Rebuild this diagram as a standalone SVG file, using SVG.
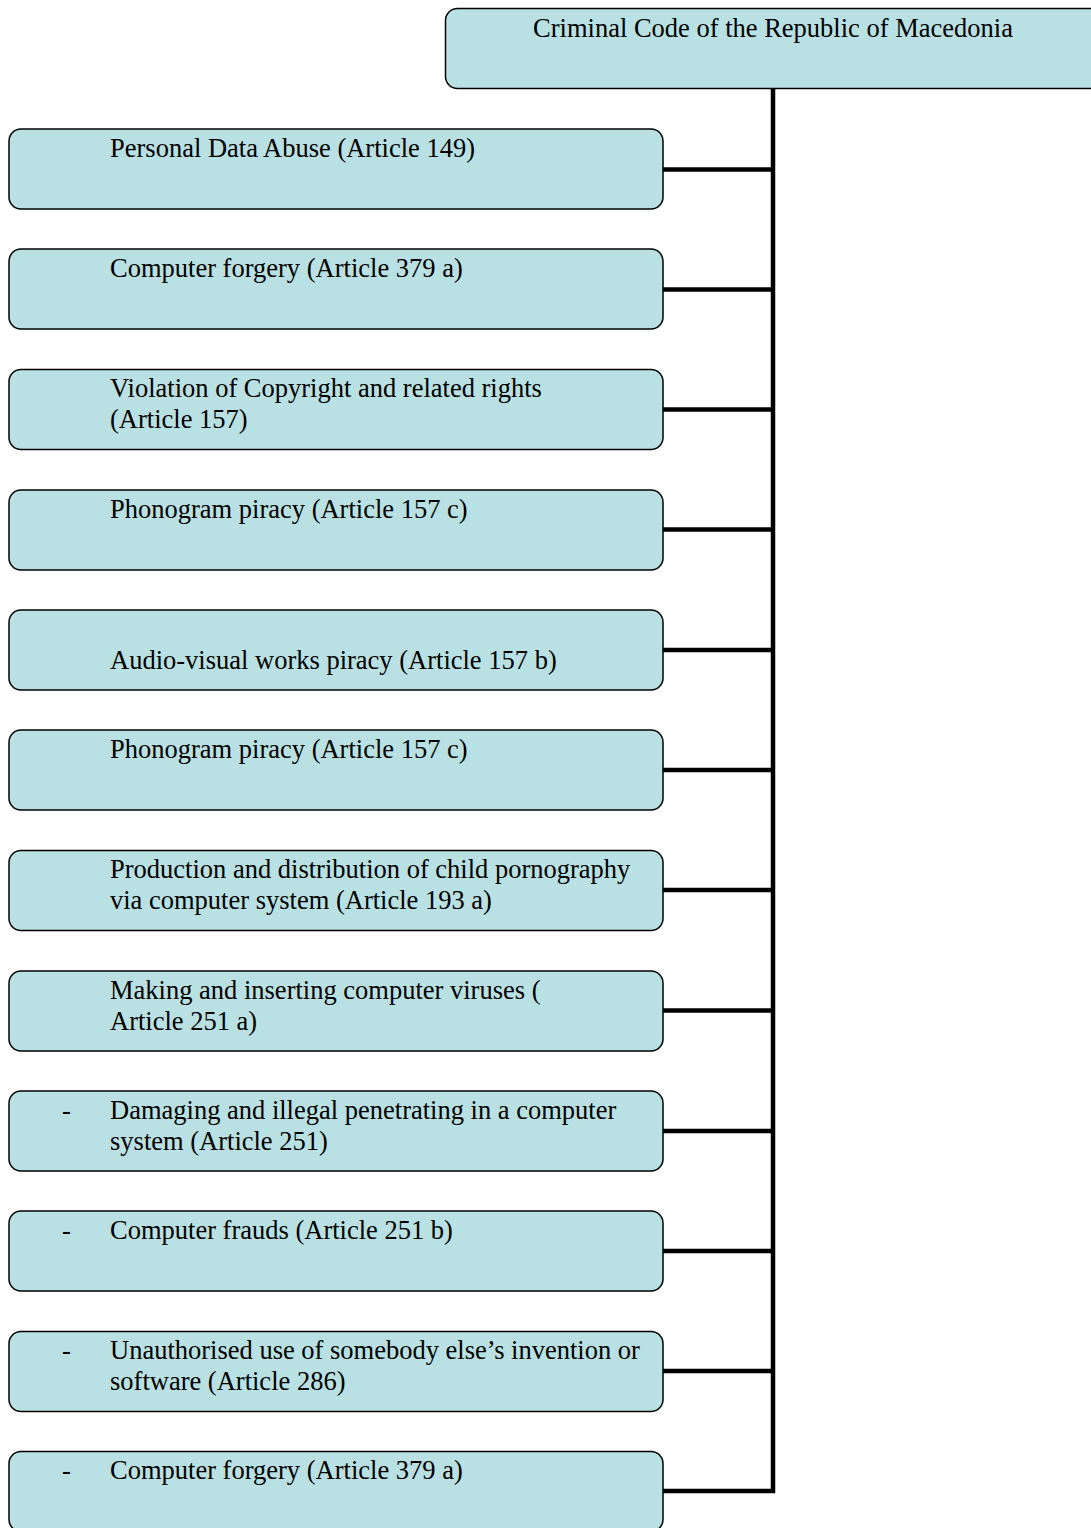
<svg xmlns="http://www.w3.org/2000/svg" width="1091" height="1528" viewBox="0 0 1091 1528">
<style>
.b{fill:#b9e0e3;stroke:#000;stroke-width:1.5}
.t{font-family:"Liberation Serif","Times New Roman",serif;font-size:26.5px;fill:#000}
.c{stroke:#000;stroke-width:4.5;fill:none}
</style>
<rect width="1091" height="1528" fill="#fff"/>
<g id="connectors">
<line class="c" x1="773" y1="88" x2="773" y2="1493"/>
<line class="c" x1="663" y1="169.5" x2="775" y2="169.5"/>
<line class="c" x1="663" y1="289.5" x2="775" y2="289.5"/>
<line class="c" x1="663" y1="409.5" x2="775" y2="409.5"/>
<line class="c" x1="663" y1="529.5" x2="775" y2="529.5"/>
<line class="c" x1="663" y1="650" x2="775" y2="650"/>
<line class="c" x1="663" y1="770" x2="775" y2="770"/>
<line class="c" x1="663" y1="890" x2="775" y2="890"/>
<line class="c" x1="663" y1="1010.5" x2="775" y2="1010.5"/>
<line class="c" x1="663" y1="1131" x2="775" y2="1131"/>
<line class="c" x1="663" y1="1251" x2="775" y2="1251"/>
<line class="c" x1="663" y1="1371" x2="775" y2="1371"/>
<line class="c" x1="663" y1="1491" x2="775" y2="1491"/>
</g>
<g id="root"><rect class="b" x="445.5" y="8.5" width="660" height="80" rx="12"/><text class="t" x="773" y="37" text-anchor="middle">Criminal Code of the Republic of Macedonia</text></g>
<g id="n1"><rect class="b" x="9" y="129" width="654" height="80" rx="12"/><text class="t" x="110" y="157">Personal Data Abuse (Article 149)</text></g>
<g id="n2"><rect class="b" x="9" y="249" width="654" height="80" rx="12"/><text class="t" x="110" y="277">Computer forgery (Article 379 a)</text></g>
<g id="n3"><rect class="b" x="9" y="369.5" width="654" height="80" rx="12"/><text class="t" x="110" y="397">Violation of Copyright and related rights</text><text class="t" x="110" y="428">(Article 157)</text></g>
<g id="n4"><rect class="b" x="9" y="490" width="654" height="80" rx="12"/><text class="t" x="110" y="518">Phonogram piracy (Article 157 c)</text></g>
<g id="n5"><rect class="b" x="9" y="610" width="654" height="80" rx="12"/><text class="t" x="110" y="669">Audio-visual works piracy (Article 157 b)</text></g>
<g id="n6"><rect class="b" x="9" y="730" width="654" height="80" rx="12"/><text class="t" x="110" y="758">Phonogram piracy (Article 157 c)</text></g>
<g id="n7"><rect class="b" x="9" y="850.5" width="654" height="80" rx="12"/><text class="t" x="110" y="878">Production and distribution of child pornography</text><text class="t" x="110" y="909">via computer system (Article 193 a)</text></g>
<g id="n8"><rect class="b" x="9" y="971" width="654" height="80" rx="12"/><text class="t" x="110" y="999">Making and inserting computer viruses (</text><text class="t" x="110" y="1030">Article 251 a)</text></g>
<g id="n9"><rect class="b" x="9" y="1091" width="654" height="80" rx="12"/><text class="t" x="62" y="1119">-</text><text class="t" x="110" y="1119">Damaging and illegal penetrating in a computer</text><text class="t" x="110" y="1150">system (Article 251)</text></g>
<g id="n10"><rect class="b" x="9" y="1211" width="654" height="80" rx="12"/><text class="t" x="62" y="1239">-</text><text class="t" x="110" y="1239">Computer frauds (Article 251 b)</text></g>
<g id="n11"><rect class="b" x="9" y="1331.5" width="654" height="80" rx="12"/><text class="t" x="62" y="1359">-</text><text class="t" x="110" y="1359">Unauthorised use of somebody else’s invention or</text><text class="t" x="110" y="1390">software (Article 286)</text></g>
<g id="n12"><rect class="b" x="9" y="1451.5" width="654" height="80" rx="12"/><text class="t" x="62" y="1479">-</text><text class="t" x="110" y="1479">Computer forgery (Article 379 a)</text></g>
</svg>
